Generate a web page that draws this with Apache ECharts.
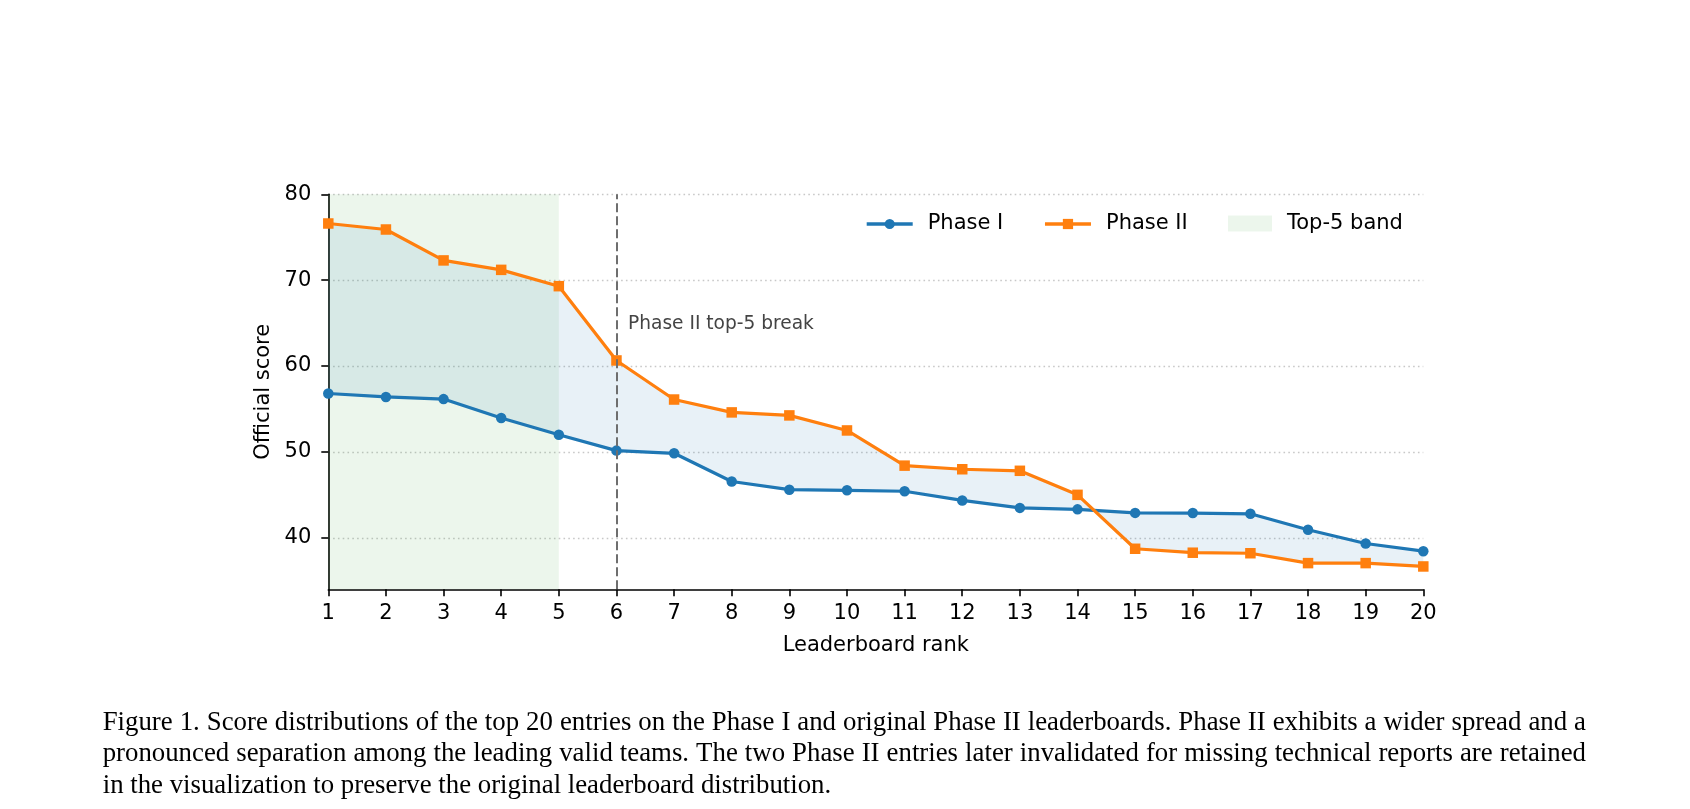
<!DOCTYPE html>
<html>
<head>
<meta charset="utf-8">
<script src="https://cdn.jsdelivr.net/npm/echarts@6/dist/echarts.min.js"></script>
<style>
  html, body { margin: 0; padding: 0; background: #fff; }
  #chart { width: 1690px; height: 809px; }
</style>
</head>
<body>
<div id="chart"></div>
<script>
// leaderboard data
const ranks = [1, 2, 3, 4, 5, 6, 7, 8, 9, 10, 11, 12, 13, 14, 15, 16, 17, 18, 19, 20];
const phase1 = [56.8, 56.4, 56.15, 53.95, 52.0, 50.15, 49.84, 46.55, 45.6, 45.53,
                45.42, 44.35, 43.48, 43.31, 42.9, 42.88, 42.79, 40.93, 39.33, 38.44];
const phase2 = [76.6, 75.9, 72.3, 71.2, 69.3, 60.65, 56.1, 54.6, 54.25, 52.5,
                48.4, 47.98, 47.8, 45.0, 38.72, 38.26, 38.2, 37.05, 37.05, 36.66];
const yTicks = [40, 50, 60, 70, 80];
const bandRange = [1, 5];
const breakRank = 6;
const breakNote = { x: 6.2, y: 64.9, text: "Phase II top-5 break" };
const captionLines = [
  "Figure 1. Score distributions of the top 20 entries on the Phase I and original Phase II leaderboards. Phase II exhibits a wider spread and a",
  "pronounced separation among the leading valid teams. The two Phase II entries later invalidated for missing technical reports are retained",
  "in the visualization to preserve the original leaderboard distribution."
];

const FONT = "DejaVu Sans";
const SERIF = "Liberation Serif";
const FS = 21;
const BLUE = "#1f77b4";
const ORANGE = "#ff7f0e";

const chart = echarts.init(document.getElementById("chart"));

// caption, justified like the LaTeX figure caption
function buildCaption() {
  const ctx = document.createElement("canvas").getContext("2d");
  const left = 102.7, right = 1586, lastWidth = 729;
  ctx.font = "100px '" + SERIF + "'";
  const fs = 100 * lastWidth / ctx.measureText(captionLines[2]).width;
  ctx.font = fs + "px '" + SERIF + "'";
  const ys = [722.6, 754, 785.5];
  const els = [];
  captionLines.forEach((line, li) => {
    if (li === captionLines.length - 1) {
      els.push({ type: "text", x: left, y: ys[li], silent: true,
        style: { text: line, fontSize: fs, fontFamily: SERIF, fill: "#000",
                 textAlign: "left", textVerticalAlign: "middle" } });
      return;
    }
    const words = line.split(" ");
    const widths = words.map(w => ctx.measureText(w).width);
    const total = widths.reduce((a, b) => a + b, 0);
    const gap = (right - left - total) / (words.length - 1);
    let x = left;
    words.forEach((w, i) => {
      els.push({ type: "text", x: x, y: ys[li], silent: true,
        style: { text: w, fontSize: fs, fontFamily: SERIF, fill: "#000",
                 textAlign: "left", textVerticalAlign: "middle" } });
      x += widths[i] + gap;
    });
  });
  return els;
}

const option = {
  animation: false,
  textStyle: { fontFamily: FONT },
  grid: { left: 328.3, right: 266.7, top: 194.3, bottom: 219.7 },
  legend: [
    {
      data: ["Phase I", "Phase II"],
      left: 865, top: 213.5, padding: 0,
      itemWidth: 46, itemHeight: 12.8, itemGap: 40,
      selectedMode: false,
      lineStyle: { width: 3.4 },
      textStyle: { fontFamily: FONT, fontSize: FS, color: "#000", padding: [0, 0, 0, 10] }
    },
    {
      data: [{ name: "Top-5 band", icon: "rect",
               itemStyle: { color: "rgba(44,160,44,0.09)", borderWidth: 0 } }],
      left: 1228, top: 213, padding: 0,
      itemWidth: 44, itemHeight: 16,
      selectedMode: false,
      textStyle: { fontFamily: FONT, fontSize: FS, color: "#000", padding: [0, 0, 0, 10] }
    }
  ],
  xAxis: {
    type: "value", min: 1, max: 20, interval: 1,
    name: "Leaderboard rank", nameLocation: "middle", nameGap: 46,
    nameTextStyle: { fontFamily: FONT, fontSize: FS, color: "#000" },
    axisLine: { lineStyle: { color: "#000", width: 1.6 } },
    axisTick: { length: 7, lineStyle: { color: "#000", width: 1.6 } },
    axisLabel: { fontFamily: FONT, fontSize: FS, color: "#000", margin: 14 },
    splitLine: { show: false }
  },
  yAxis: {
    type: "value", min: 34, max: 80,
    name: "Official score", nameLocation: "middle", nameGap: 50,
    nameTextStyle: { fontFamily: FONT, fontSize: FS, color: "#000" },
    axisLine: { show: true, lineStyle: { color: "#000", width: 1.6 } },
    axisTick: { show: true, length: 7, customValues: yTicks, lineStyle: { color: "#000", width: 1.6 } },
    axisLabel: { fontFamily: FONT, fontSize: FS, color: "#000", margin: 17, customValues: yTicks },
    splitLine: { show: true, lineStyle: { color: "#c8c8c8", width: 1.3, type: [1.6, 3.2] } }
  },
  graphic: buildCaption(),
  series: [
    {
      name: "Top-5 band",
      type: "line",
      data: [],
      z: 0,
      markArea: {
        silent: true,
        itemStyle: { color: "rgba(44,160,44,0.09)" },
        data: [[{ xAxis: bandRange[0] }, { xAxis: bandRange[1] }]]
      }
    },
    {
      name: "gap",
      type: "custom",
      z: 1,
      silent: true,
      data: [[ranks[0], phase1[0]]],
      renderItem: function (params, api) {
        const pts = [];
        ranks.forEach((r, i) => pts.push(api.coord([r, phase1[i]])));
        for (let i = ranks.length - 1; i >= 0; i--) pts.push(api.coord([ranks[i], phase2[i]]));
        return { type: "polygon", shape: { points: pts },
                 style: { fill: "rgba(31,119,180,0.1)", stroke: null } };
      }
    },
    {
      name: "Phase I",
      type: "line",
      z: 3,
      data: ranks.map((r, i) => [r, phase1[i]]),
      color: BLUE,
      symbol: "circle", symbolSize: 10.5, showAllSymbol: true,
      lineStyle: { width: 3.2, color: BLUE },
      itemStyle: { color: BLUE },
      markLine: {
        silent: true, symbol: "none",
        label: { show: false },
        lineStyle: { color: "#6e6e6e", width: 2, type: [9, 4] },
        data: [{ xAxis: breakRank }]
      }
    },
    {
      name: "Phase II",
      type: "line",
      z: 4,
      data: ranks.map((r, i) => [r, phase2[i]]),
      color: ORANGE,
      symbol: "rect", symbolSize: 10.5, showAllSymbol: true,
      lineStyle: { width: 3.2, color: ORANGE },
      itemStyle: { color: ORANGE },
      markPoint: {
        silent: true,
        symbolSize: 0,
        data: [{ coord: [breakNote.x, breakNote.y], symbol: "circle" }],
        label: { show: true, position: "right", distance: 0, formatter: breakNote.text,
                 fontFamily: FONT, fontSize: 18.6, color: "#444" }
      }
    }
  ]
};

chart.setOption(option);
</script>
</body>
</html>
